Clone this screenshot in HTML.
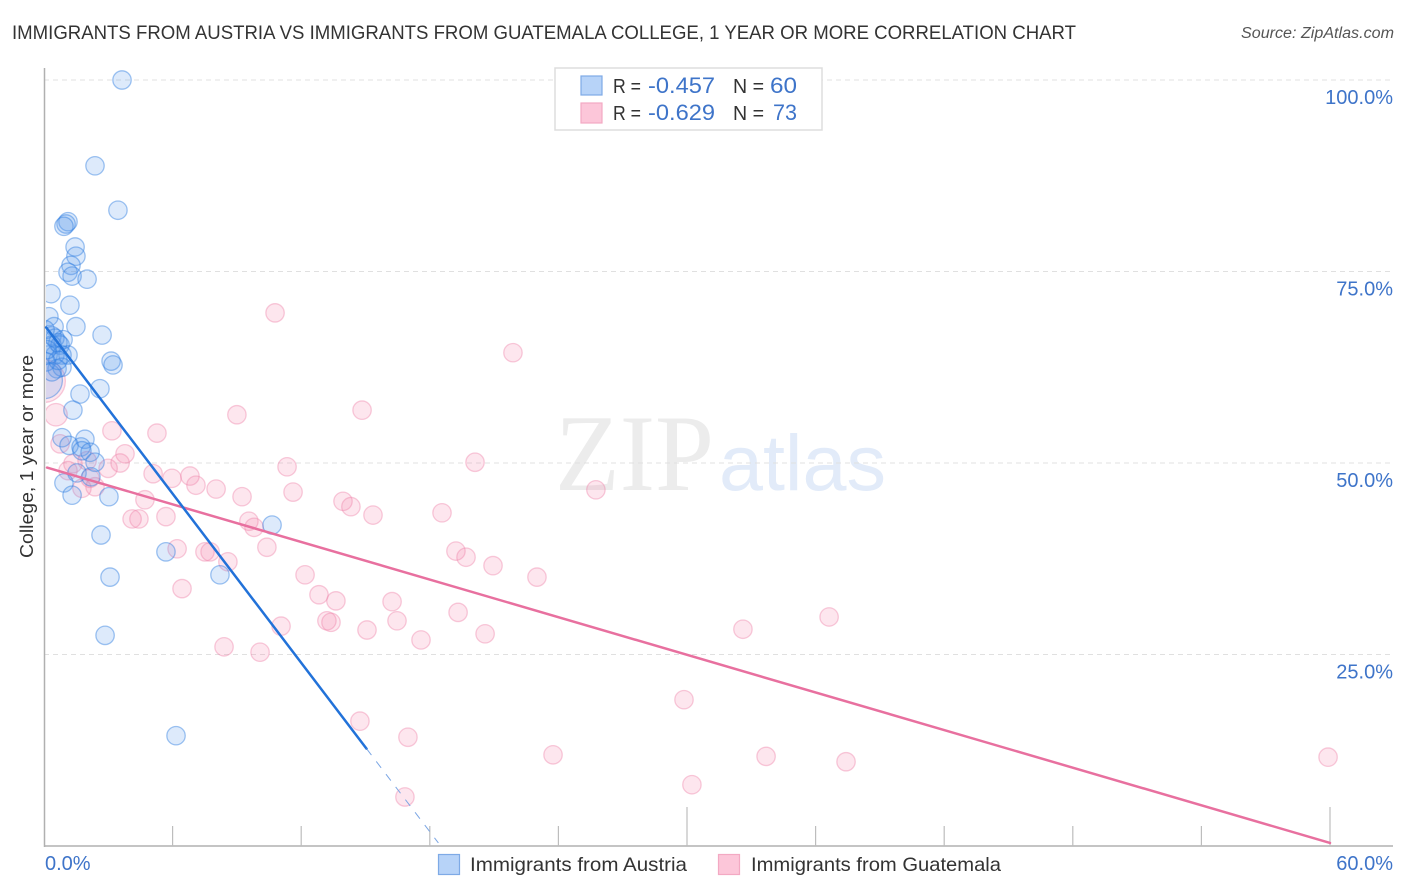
<!DOCTYPE html>
<html lang="en">
<head>
<meta charset="utf-8">
<title>Immigrants from Austria vs Immigrants from Guatemala College Correlation Chart</title>
<style>
html,body{margin:0;padding:0;background:#fff;width:1406px;height:892px;overflow:hidden}
svg{display:block;font-family:"Liberation Sans",sans-serif}
</style>
</head>
<body>
<svg id="chart" xmlns="http://www.w3.org/2000/svg" width="1406" height="892" viewBox="0 0 1406 892">
  <defs><clipPath id="plot-clip"><rect x="46" y="60" width="1360" height="786"/></clipPath></defs>
  <rect x="0" y="0" width="1406" height="892" fill="#fff"/>
  <text x="12" y="39" font-size="19.5" fill="#333" textLength="1064" lengthAdjust="spacingAndGlyphs">IMMIGRANTS FROM AUSTRIA VS IMMIGRANTS FROM GUATEMALA COLLEGE, 1 YEAR OR MORE CORRELATION CHART</text>
  <text x="1394" y="38" font-size="15.5" font-style="italic" fill="#555" text-anchor="end" textLength="153" lengthAdjust="spacingAndGlyphs">Source: ZipAtlas.com</text>
  <g>
    <text x="555" y="490" font-family="'Liberation Serif',serif" font-size="109" fill="#ececec" textLength="159" lengthAdjust="spacingAndGlyphs">ZIP</text>
    <text x="719" y="490" font-size="79" fill="#e2ebf9" textLength="167" lengthAdjust="spacingAndGlyphs">atlas</text>
  </g>
  <g id="grid"></g>
  <g id="axes"></g>
  <g id="points" clip-path="url(#plot-clip)"></g>
  <g id="trends"></g>
  <g id="labels"></g>
  <text transform="translate(33,558) rotate(-90)" font-size="18.5" fill="#333" textLength="203" lengthAdjust="spacingAndGlyphs">College, 1 year or more</text>

  <g>
    <rect x="555" y="68" width="267" height="62" fill="#fff" stroke="#ddd" stroke-width="1.5"/>
    <rect x="581" y="76" width="21" height="19" fill="#b7d3f8" stroke="#7eaae6" stroke-width="1.2"/>
    <rect x="581" y="103" width="21" height="20" fill="#fcc6d9" stroke="#f3a9c3" stroke-width="1.2"/>
    <text x="613" y="93" font-size="20" fill="#333" textLength="28" lengthAdjust="spacingAndGlyphs">R =</text>
    <text x="648" y="93" font-size="22" fill="#3e74c9" textLength="67" lengthAdjust="spacingAndGlyphs">-0.457</text>
    <text x="733" y="93" font-size="20" fill="#333" textLength="31" lengthAdjust="spacingAndGlyphs">N =</text>
    <text x="770" y="93" font-size="22" fill="#3e74c9" textLength="27" lengthAdjust="spacingAndGlyphs">60</text>
    <text x="613" y="120" font-size="20" fill="#333" textLength="28" lengthAdjust="spacingAndGlyphs">R =</text>
    <text x="648" y="120" font-size="22" fill="#3e74c9" textLength="67" lengthAdjust="spacingAndGlyphs">-0.629</text>
    <text x="733" y="120" font-size="20" fill="#333" textLength="31" lengthAdjust="spacingAndGlyphs">N =</text>
    <text x="773" y="120" font-size="22" fill="#3e74c9" textLength="24" lengthAdjust="spacingAndGlyphs">73</text>
  </g>

  <g>
    <rect x="438.5" y="854.5" width="21" height="20" fill="#b7d3f8" stroke="#7eaae6" stroke-width="1.2"/>
    <text x="470" y="871" font-size="19.5" fill="#333" textLength="217" lengthAdjust="spacingAndGlyphs">Immigrants from Austria</text>
    <rect x="718.5" y="854.5" width="21" height="20" fill="#fcc6d9" stroke="#f3a9c3" stroke-width="1.2"/>
    <text x="751" y="871" font-size="19.5" fill="#333" textLength="250" lengthAdjust="spacingAndGlyphs">Immigrants from Guatemala</text>
  </g>
</svg>
<script>
// ---- data (percent values) ----
const austriaX = [3.64,2.38,3.45,1.12,1.03,0.93,1.45,1.49,1.26,1.12,1.31,2.01,0.33,1.21,0.23,1.49,0.47,2.71,0.37,0.89,0.51,0.65,0.37,0.75,0.51,0.19,1.12,0.84,3.13,3.22,0.61,0.84,1.68,2.61,1.35,0.84,1.91,1.17,1.73,1.77,2.15,2.38,1.54,2.19,0.93,1.31,3.03,2.66,3.08,2.85,6.16,5.69,8.21,10.64,0.0,0.1,0.37,0.65,0.14,0.05];
const austriaY = [100.0,88.8,83.0,81.5,81.2,80.9,78.2,77.0,75.8,74.9,74.4,74.0,72.1,70.6,69.1,67.8,67.8,66.7,66.6,66.1,66.3,65.7,65.4,65.4,64.1,64.1,64.1,64.1,63.3,62.8,62.3,62.5,59.0,59.7,56.9,53.3,53.1,52.3,52.1,51.6,51.4,50.1,48.7,48.2,47.4,45.8,45.6,40.6,35.1,27.5,14.4,38.4,35.4,41.9,60.8,63.2,61.9,63.4,64.8,67.4];
const austriaWeight = [1,1,1,1,1,1,1,1,1,1,1,1,1,1,1,1,1,1,1,1,1,1,1,1,1,1,1,1,1,1,1,1,1,1,1,1,1,1,1,1,1,1,1,1,1,1,1,1,1,1,1,1,1,1,4,1,1,1,1,1];
const guatemalaX = [10.78,21.88,14.84,9.0,3.17,5.27,20.11,3.78,11.34,3.55,2.99,1.35,1.12,2.01,2.15,1.77,2.38,0.75,0.56,0.0,5.09,5.97,6.81,7.09,8.03,11.62,9.24,4.71,13.95,14.32,25.75,15.35,18.57,4.11,4.43,5.69,9.56,9.8,6.21,10.4,7.51,7.75,19.22,19.69,20.95,8.58,23.0,12.18,6.44,12.83,13.62,16.24,19.32,16.47,13.2,13.39,11.06,15.07,20.58,32.61,36.63,17.59,8.4,10.08,29.86,14.74,16.98,23.75,33.69,37.42,59.91,30.23,16.84];
const guatemalaY = [69.6,64.4,56.9,56.3,54.2,53.9,50.1,51.2,49.5,50.0,49.3,49.9,49.0,50.3,48.0,46.7,46.9,52.5,56.3,60.7,48.6,48.0,48.3,47.1,46.6,46.2,45.6,45.2,45.0,44.3,46.5,43.2,43.5,42.7,42.7,43.0,42.4,41.6,38.8,39.0,38.4,38.4,38.5,37.7,36.6,37.1,35.1,35.4,33.6,32.8,32.0,31.9,30.5,29.4,29.4,29.2,28.7,28.2,27.7,28.3,29.9,26.9,26.0,25.3,19.1,16.3,14.2,11.9,11.7,11.0,11.6,8.0,6.4];
const guatemalaWeight = [1,1,1,1,1,1,1,1,1,1,1,1,1,1,1,1,1,1,1.5,5.4,1,1,1,1,1,1,1,1,1,1,1,1,1,1,1,1,1,1,1,1,1,1,1,1,1,1,1,1,1,1,1,1,1,1,1,1,1,1,1,1,1,1,1,1,1,1,1,1,1,1,1,1,1];
const austriaTrendX = [0.1,15.05];
const austriaTrendY = [67.7,12.7];
const austriaTrendExtX = [15.05,18.4];
const austriaTrendExtY = [12.7,0.4];
const guatemalaTrendX = [0.14,60];
const guatemalaTrendY = [49.4,0.4];
const xTicks = [6,12,18,24,30,36,42,48,54,60];
const xMajorTicks = [30,60];
const xEdgeLabels = [0,60];
const yTicks = [25,50,75,100];

// ---- scales ----
function sx(v){return 44 + v * (1286/60);}
function sy(v){return 846 - v * (766/100);}
function sr(w){return 9.2 * Math.sqrt(w);}
const NS = 'http://www.w3.org/2000/svg';
function make(tag, attrs, parent){
  const el = document.createElementNS(NS, tag);
  for (const k in attrs) el.setAttribute(k, attrs[k]);
  parent.appendChild(el);
  return el;
}
const grid = document.getElementById('grid');
const axes = document.getElementById('axes');
const pts = document.getElementById('points');
const trends = document.getElementById('trends');
const labels = document.getElementById('labels');

// gridlines
yTicks.forEach(function(v){
  const l = make('line',{x1:44,x2:1393,y1:sy(v),y2:sy(v),stroke:'#e0e0e0','stroke-width':1,'stroke-dasharray':'5 4'},grid);
  
  
});

// axes
const yAxis = make('line',{x1:44.5,x2:44.5,y1:68,y2:847,stroke:'#b0b0b0','stroke-width':1.5},axes);


const xAxis = make('line',{x1:44,x2:1393,y1:846,y2:846,stroke:'#b0b0b0','stroke-width':1.5},axes);


xTicks.forEach(function(v){
  const top = xMajorTicks.indexOf(v) >= 0 ? 807 : 826;
  const t = make('line',{x1:sx(v),x2:sx(v),y1:top,y2:846,stroke:'#bdbdbd','stroke-width':1.2},axes);
  
  
});

// tick labels
yTicks.forEach(function(v){
  const t = make('text',{x:1393,y:sy(v)+24,'font-size':20,fill:'#3e74c9','text-anchor':'end'},labels);
  t.textContent = v.toFixed(1) + '%';
  
  
});
xEdgeLabels.forEach(function(v){
  const t = make('text',{x:v === 0 ? 45 : 1393,y:870,'font-size':20,fill:'#3e74c9','text-anchor':v === 0 ? 'start' : 'end'},labels);
  t.textContent = v.toFixed(1) + '%';
  
  
});

// points
guatemalaX.forEach(function(v,i){
  const c = make('circle',{cx:sx(v),cy:sy(guatemalaY[i]),r:sr(guatemalaWeight[i]),fill:'rgba(246,128,170,0.2)',stroke:'rgba(238,130,170,0.42)','stroke-width':1.3},pts);
  
  
});
austriaX.forEach(function(v,i){
  const c = make('circle',{cx:sx(v),cy:sy(austriaY[i]),r:sr(austriaWeight[i]),fill:'rgba(85,150,235,0.2)',stroke:'rgba(45,125,225,0.45)','stroke-width':1.3},pts);
  
  
});

// trend lines
const pinkTrend = make('line',{x1:sx(guatemalaTrendX[0]),y1:sy(guatemalaTrendY[0]),x2:sx(guatemalaTrendX[1]),y2:sy(guatemalaTrendY[1]),stroke:'#e8709f','stroke-width':2.5,'stroke-linecap':'round'},trends);


const blueTrend = make('line',{x1:sx(austriaTrendX[0]),y1:sy(austriaTrendY[0]),x2:sx(austriaTrendX[1]),y2:sy(austriaTrendY[1]),stroke:'#2272d9','stroke-width':2.5,'stroke-linecap':'round'},trends);


const blueExt = make('line',{x1:sx(austriaTrendExtX[0]),y1:sy(austriaTrendExtY[0]),x2:sx(austriaTrendExtX[1]),y2:sy(austriaTrendExtY[1]),stroke:'#7ba6e4','stroke-width':1,'stroke-dasharray':'8 8'},trends);


</script>
</body>
</html>
